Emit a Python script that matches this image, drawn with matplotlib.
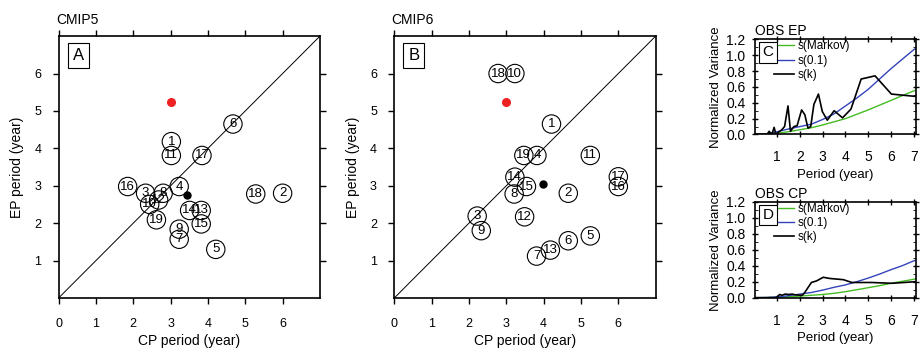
import matplotlib
matplotlib.use("Agg")
import matplotlib.pyplot as plt
from matplotlib.ticker import MultipleLocator, FormatStrFormatter

plt.rcParams['font.family'] = ['Liberation Sans', 'DejaVu Sans']

# model numbers 1..19
models = [str(i) for i in range(1, 20)]

# CMIP5 (panel A): CP period, EP period (year)
cmip5_cp = [3.02, 6.00, 2.33, 3.23, 4.21, 4.67, 3.23, 2.80, 3.23, 2.44,
            3.02, 2.68, 3.82, 3.51, 3.82, 1.85, 3.84, 5.28, 2.62]
cmip5_ep = [4.18, 2.80, 2.80, 2.98, 1.30, 4.65, 1.57, 2.80, 1.84, 2.50,
            3.81, 2.62, 2.34, 2.34, 1.98, 2.98, 3.81, 2.78, 2.09]
cmip5_mean = (3.45, 2.75)

# CMIP6 (panel B)
cmip6_cp = [4.21, 4.66, 2.22, 3.82, 5.25, 4.66, 3.81, 3.21, 2.33, 3.23,
            5.25, 3.49, 4.18, 3.23, 3.54, 6.00, 6.00, 2.78, 3.47]
cmip6_ep = [4.65, 2.80, 2.19, 3.81, 1.66, 1.53, 1.12, 2.78, 1.80, 6.00,
            3.81, 2.17, 1.28, 3.23, 2.98, 2.98, 3.24, 6.00, 3.81]
cmip6_mean = (3.97, 3.05)

obs = (3.0, 5.25)

# panel C / D spectra
period_smooth = [0, 0.5, 1.0, 1.5, 2.0, 2.5, 3.0, 3.5, 4.0, 4.5, 5.0, 5.5, 6.0, 6.5, 7.0, 7.1]
ep_markov = [0, 0.002, 0.015, 0.035, 0.06, 0.085, 0.12, 0.16, 0.20, 0.255, 0.31, 0.37, 0.43, 0.49, 0.55, 0.56]
ep_red01 = [0, 0.005, 0.035, 0.07, 0.10, 0.13, 0.19, 0.26, 0.36, 0.46, 0.57, 0.70, 0.83, 0.95, 1.07, 1.09]
cp_markov = [0, 0.001, 0.005, 0.012, 0.02, 0.03, 0.04, 0.055, 0.075, 0.10, 0.125, 0.15, 0.18, 0.205, 0.23, 0.235]
cp_red01 = [0, 0.002, 0.01, 0.025, 0.045, 0.065, 0.095, 0.13, 0.16, 0.20, 0.245, 0.295, 0.35, 0.40, 0.46, 0.47]

ep_k_period = [0.0, 0.55, 0.64, 0.76, 0.86, 0.94, 1.06, 1.2, 1.32, 1.47, 1.58, 1.73, 1.87,
               2.07, 2.21, 2.35, 2.47, 2.61, 2.81, 2.98, 3.2, 3.5, 3.87, 4.24, 4.69,
               5.3, 6.02, 7.1]
ep_k = [0.0, 0.0, 0.04, 0.0, 0.09, 0.0, 0.03, 0.06, 0.10, 0.36, 0.04, 0.10, 0.11,
        0.31, 0.25, 0.08, 0.10, 0.38, 0.51, 0.29, 0.18, 0.30, 0.21, 0.32, 0.70,
        0.74, 0.51, 0.48]

cp_k_period = [0.0, 0.9, 1.0, 1.1, 1.2, 1.35, 1.5, 1.65, 1.8, 2.1, 2.22, 2.5, 2.73,
               3.02, 3.32, 3.91, 4.28, 5.15, 6.04, 7.1]
cp_k = [0.0, 0.0, 0.01, 0.04, 0.03, 0.045, 0.04, 0.045, 0.035, 0.03, 0.07, 0.19, 0.21,
        0.255, 0.24, 0.225, 0.19, 0.19, 0.18, 0.20]

fig = plt.figure(figsize=(9.21, 3.52), dpi=100)


def scatter_panel(ax, cp, ep, mean, title, letter):
    ax.plot([0, 7], [0, 7], color='k', lw=0.7)
    ax.scatter(cp, ep, s=175, facecolors='none', edgecolors='k', linewidths=0.8, zorder=3)
    for x, y, m in zip(cp, ep, models):
        ax.text(x, y, m, ha='center', va='center', fontsize=9.5, zorder=4)
    ax.plot(obs[0], obs[1], 'o', color='#ee2222', ms=5.5, zorder=5)
    ax.plot(mean[0], mean[1], 'o', color='k', ms=5, zorder=5)
    ax.set_xlim(0, 7)
    ax.set_ylim(0, 7)
    ax.set_xticks(range(0, 7))
    ax.set_yticks(range(1, 7))
    ax.tick_params(direction='out', length=4.5, width=1, top=True, right=True,
                   labelsize=9, pad=10)
    ax.tick_params(axis='y', pad=8)
    for sp in ax.spines.values():
        sp.set_linewidth(1.2)
    ax.set_xlabel('CP period (year)', fontsize=10, labelpad=3)
    ax.set_ylabel('EP period (year)', fontsize=10, labelpad=7)
    ax.set_title(title, loc='left', fontsize=10, pad=9, x=-0.01)
    ax.text(0.075, 0.925, letter, transform=ax.transAxes, ha='center', va='center',
            fontsize=12, zorder=6,
            bbox=dict(boxstyle='square,pad=0.3', fc='white', ec='k', lw=0.8))


def spectrum_panel(ax, markov, red, kp, kv, title, letter):
    ax.plot(period_smooth, markov, color='#44bb22', lw=1, label='s(Markov)')
    ax.plot(period_smooth, red, color='#3344bb', lw=1, label='s(0.1)')
    ax.plot(kp, kv, color='k', lw=1.2, label='s(k)')
    ax.set_xlim(0, 7.1)
    ax.set_ylim(0, 1.2)
    ax.set_xticks(range(1, 8))
    ax.yaxis.set_major_locator(MultipleLocator(0.2))
    ax.yaxis.set_minor_locator(MultipleLocator(0.1))
    ax.yaxis.set_major_formatter(FormatStrFormatter('%.1f'))
    ax.tick_params(direction='inout', length=5, width=1, top=True, right=True,
                   labelsize=10)
    ax.tick_params(axis='x', pad=9)
    ax.tick_params(axis='y', pad=4)
    ax.tick_params(which='minor', direction='in', length=2.5, left=True, right=True)
    for sp in ax.spines.values():
        sp.set_linewidth(1.2)
    ax.set_xlabel('Period (year)', fontsize=9.5, labelpad=3)
    ax.set_ylabel('Normalized Variance', fontsize=9.5, labelpad=3)
    ax.set_title(title, loc='left', fontsize=10, pad=3)
    ax.legend(loc='upper left', bbox_to_anchor=(0.12, 0.99), frameon=False,
              fontsize=8.5, handlelength=1.7, handletextpad=0.3, labelspacing=0.2,
              borderaxespad=0, borderpad=0)
    ax.text(0.083, 0.863, letter, transform=ax.transAxes, ha='center', va='center',
            fontsize=11, zorder=7,
            bbox=dict(boxstyle='square,pad=0.2', fc='white', ec='k', lw=0.8))


axA = fig.add_axes([0.0636, 0.1534, 0.2838, 0.744])
scatter_panel(axA, cmip5_cp, cmip5_ep, cmip5_mean, 'CMIP5', 'A')
axB = fig.add_axes([0.4281, 0.1534, 0.2838, 0.744])
scatter_panel(axB, cmip6_cp, cmip6_ep, cmip6_mean, 'CMIP6', 'B')

axC = fig.add_axes([0.8193, 0.618, 0.1752, 0.27])
spectrum_panel(axC, ep_markov, ep_red01, ep_k_period, ep_k, 'OBS EP', 'C')
axD = fig.add_axes([0.8193, 0.1543, 0.1752, 0.2727])
spectrum_panel(axD, cp_markov, cp_red01, cp_k_period, cp_k, 'OBS CP', 'D')

fig.savefig('out.png', dpi=100)
